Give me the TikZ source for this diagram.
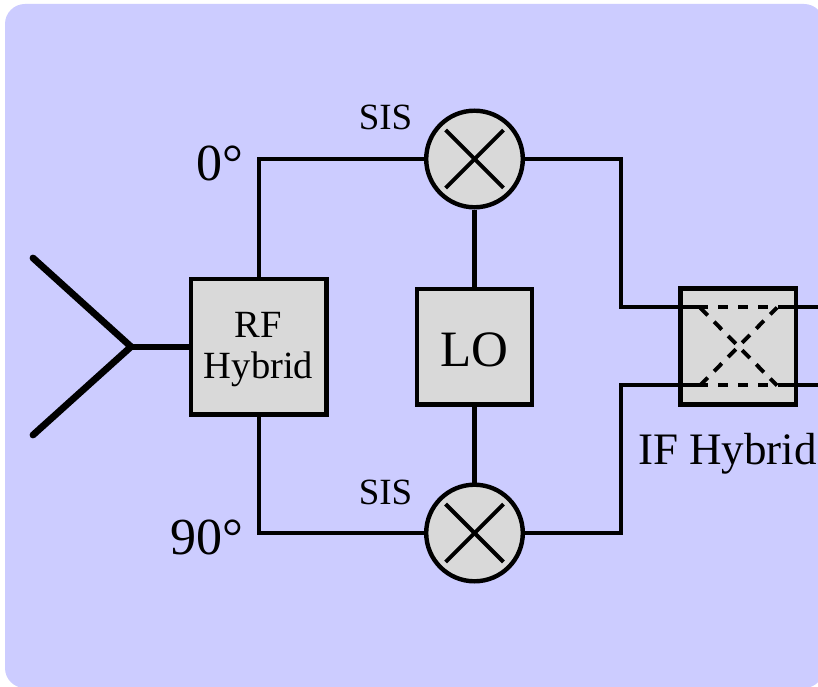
\documentclass[tikz,border=0pt]{standalone}
\usepackage{fontspec}
\setmainfont{Liberation Serif}
\tikzset{
 wire/.style={line width=4.1pt,draw=black},
 boxn/.style={draw=black,line width=4.4pt,fill=black!15,inner sep=0pt,align=center},
 mixer/.style={circle,draw=black,line width=4.4pt,fill=black!15,minimum size=96.6pt,inner sep=0pt},
 cross/.style={line width=3.9pt,shorten >=9.5pt,shorten <=9.5pt},
 lab/.style={inner sep=0pt,text=black},
 ant/.style={line width=6.8pt,line cap=round,line join=round},
 dashh/.style={line width=3.9pt,dash pattern=on 10pt off 10pt},
 dashd/.style={line width=3.9pt,dash pattern=on 11pt off 9pt}
}
\definecolor{panel}{RGB}{204,204,255}
\begin{document}
\begin{tikzpicture}[x=1pt,y=-1pt]
\useasboundingbox (0,0) rectangle (818,687);
\fill[white] (0,0) rectangle (818,687);
\clip (0,0) rectangle (818,687);
\fill[panel,rounded corners=20pt] (5,4) rectangle (824,688);
% free connector ends and bends
\coordinate (tip1) at (33,258);
\coordinate (tip2) at (33,435);
\coordinate (apex) at (131,346.7);
\coordinate (c0) at (258.7,159);
\coordinate (c90) at (258.7,533);
\coordinate (upR) at (621,159);
\coordinate (loR) at (621,533);
\coordinate (upI) at (621,307);
\coordinate (loI) at (621,385);
\coordinate (inA) at (698,307);
\coordinate (inB) at (698,385);
\coordinate (inC) at (778,307);
\coordinate (inD) at (778,385);
\coordinate (out1) at (818,307);
\coordinate (out2) at (818,385);
\coordinate (dA) at (700,307.5);
\coordinate (dB) at (777,385.5);
\coordinate (dC) at (777,307.5);
\coordinate (dD) at (700,385.5);
% boxes and mixers
\node[boxn,minimum width=135.6pt,minimum height=135.6pt] (rf) at (258.7,346.7) {};
\node[boxn,minimum width=114.6pt,minimum height=115.6pt] (lo) at (474.5,346.7) {};
\node[boxn,minimum width=115.6pt,minimum height=116pt] (if) at (738.3,346.5) {};
\node[mixer] (m1) at (474.5,159) {};
\node[mixer] (m2) at (474.5,533) {};
\foreach \m in {m1,m2}{
  \draw[cross] (\m.135) -- (\m.315);
  \draw[cross] (\m.45) -- (\m.225);
}
% connectors
\draw[ant] (tip1) -- (apex) -- (tip2);
\draw[line width=6.4pt] (apex) -- (rf.west);
\draw[wire] (rf.north) -- (c0) -- (m1.west);
\draw[wire] (rf.south) -- (c90) -- (m2.west);
\draw[wire] (m1.south) -- (lo.north);
\draw[wire] (lo.south) -- (m2.north);
\draw[wire] (m1.east) -- (upR) -- (upI) -- (inA);
\draw[wire] (m2.east) -- (loR) -- (loI) -- (inB);
\draw[wire] (inC) -- (out1);
\draw[wire] (inD) -- (out2);
% dashed crossover inside the IF hybrid
\draw[dashh] (inA) -- (inC);
\draw[dashh] (inB) -- (inD);
\draw[dashd] (dA) -- (dB);
\draw[dashd] (dD) -- (dC);
% labels
\node[lab,font=\fontsize{38.5}{41}\selectfont,anchor=base] (rf1) at (258.5,337) {RF};
\node[lab,font=\fontsize{38.5}{41}\selectfont,anchor=base] (rf2) at (258.5,378) {Hybrid};
\node[lab,font=\fontsize{51}{54}\selectfont,anchor=base] (lol) at (474.5,366) {LO};
\node[lab,font=\fontsize{37}{39}\selectfont,anchor=base] (s1) at (385.5,130) {SIS};
\node[lab,font=\fontsize{37}{39}\selectfont,anchor=base] (s2) at (385.5,504.5) {SIS};
\node[lab,font=\fontsize{52}{54}\selectfont,anchor=base east] (d0) at (243,180) {0°};
\node[lab,font=\fontsize{52}{54}\selectfont,anchor=base east] (d90) at (243,554) {90°};
\node[lab,font=\fontsize{45}{47}\selectfont,anchor=base west] (ifl) at (638,464) {IF Hybrid};
\end{tikzpicture}
\end{document}
